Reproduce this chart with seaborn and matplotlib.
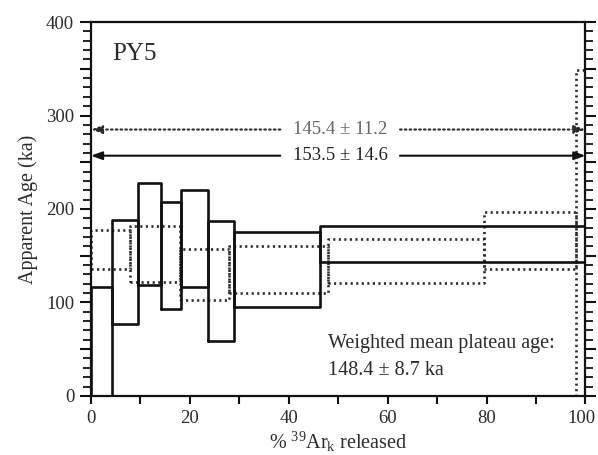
import numpy as np
import pandas as pd
import matplotlib
matplotlib.use('Agg')
import matplotlib.pyplot as plt
import matplotlib.transforms as mtransforms
import seaborn as sns
from matplotlib.ticker import MultipleLocator, FuncFormatter

# step heating spectra: cumulative % 39Ar boundaries, upper / lower age (ka)
solid_edges = [0, 4.3, 9.45, 14.1, 18.3, 23.6, 29.0, 46.3, 100]
solid_hi = [116, 188, 228, 207, 220, 187, 175, 182]
solid_lo = [-20, 77, 119, 93, 116, 59, 95.5, 143]

dot_edges = [0, 8.0, 18.1, 27.9, 48.0, 79.4, 98.1, 100]
dot_hi = [177, 182, 157, 160, 168, 197, 349]
dot_lo = [135.5, 122, 103, 110.5, 120.5, 136, -20]

# total gas ages drawn as arrows
arrow_dot_y = 285
arrow_solid_y = 257
label_dot = '145.4 ± 11.2'
label_solid = '153.5 ± 14.6'


def boxes(edges, hi, lo):
    rows = []
    for i in range(len(hi)):
        x0, x1 = edges[i], edges[i + 1]
        xs = [x0, x1, x1, x0, x0]
        ys = [lo[i], lo[i], hi[i], hi[i], lo[i]]
        for k, (x, y) in enumerate(zip(xs, ys)):
            rows.append({'step': i, 'order': k, 'pct': x, 'age': y})
    return pd.DataFrame(rows)


sns.set_theme(style='ticks')
plt.rcParams['font.family'] = ['Liberation Serif', 'DejaVu Serif']
plt.rcParams['mathtext.fontset'] = 'custom'
plt.rcParams['mathtext.rm'] = 'Liberation Serif'
plt.rcParams['mathtext.it'] = 'Liberation Serif:italic'
txt = '#2b2b2b'

fig = plt.figure(figsize=(5.98, 4.55), dpi=100)
ax = fig.add_axes([0.152, 0.13, 0.827, 0.8215])

dfd = boxes(dot_edges, dot_hi, dot_lo)
dfs = boxes(solid_edges, solid_hi, solid_lo)
sns.lineplot(data=dfd, x='pct', y='age', units='step', estimator=None, sort=False,
             color='#2a2a2a', lw=1.9, ls=(0, (0.8, 1.3)), ax=ax)
sns.lineplot(data=dfs, x='pct', y='age', units='step', estimator=None, sort=False,
             color='#111111', lw=1.9, ax=ax)

# total gas arrows
for y, lab, col, ls in [(arrow_dot_y, label_dot, '#666666', (0, (0.8, 1.5))),
                        (arrow_solid_y, label_solid, '#222222', '-')]:
    lcol = '#2a2a2a' if ls != '-' else '#111111'
    for xa, xb in [(38.3, 0), (62.5, 100)]:
        ax.annotate('', xy=(xb, y), xytext=(xa, y),
                    arrowprops=dict(arrowstyle='-|>,head_length=0.55,head_width=0.2',
                                    color=lcol, lw=1.5, ls=ls, shrinkA=0, shrinkB=0))
    ax.text(50.4, y, lab, ha='center', va='center', fontsize=13.5, color=col)

ax.text(4.4, 378, 'PY5', fontsize=18, color=txt, ha='left', va='top')
ax.text(48.0, 66, 'Weighted mean plateau age:', fontsize=14.5, color=txt, ha='left', va='top')
ax.text(48.0, 37, '148.4 ± 8.7 ka', fontsize=14.5, color=txt, ha='left', va='top')

ax.set_xlim(0, 100)
ax.set_ylim(0, 400)
ax.set_xlabel(r'% $^{\mathrm{39}}$Ar$_{\mathrm{k}}$ released', fontsize=14.5, color=txt, labelpad=2)
ax.set_ylabel('Apparent Age (ka)', fontsize=14.5, color=txt, labelpad=6)

ax.xaxis.set_major_locator(MultipleLocator(10))
ax.xaxis.set_major_formatter(FuncFormatter(lambda v, p: f'{v:.0f}' if round(v) % 20 == 0 else ''))
ax.yaxis.set_major_locator(MultipleLocator(50))
ax.yaxis.set_minor_locator(MultipleLocator(10))
ax.yaxis.set_major_formatter(FuncFormatter(lambda v, p: f'{v:.0f}' if round(v) % 100 == 0 else ''))

ax.tick_params(axis='x', which='major', direction='out', length=6, width=1.5,
               labelsize=13.5, colors='#111111', labelcolor=txt, top=False, pad=4)
ax.tick_params(axis='y', which='major', direction='out', length=8, width=1.5,
               labelsize=13.5, colors='#111111', labelcolor=txt, left=True, right=True, pad=4)
ax.tick_params(axis='y', which='minor', direction='out', length=6, width=1.3,
               colors='#111111', left=True, right=True)
for s in ax.spines.values():
    s.set_visible(True)
    s.set_linewidth(1.6)
    s.set_color('#111111')
ax.grid(False)
if ax.get_legend():
    ax.get_legend().remove()

# keep the "100" label inside the figure
fig.canvas.draw()
for lab in ax.get_xticklabels():
    if lab.get_text() == '100':
        lab.set_transform(lab.get_transform() +
                          mtransforms.ScaledTranslation(-3 / 72, 0, fig.dpi_scale_trans))

fig.savefig('out.png', dpi=100)
